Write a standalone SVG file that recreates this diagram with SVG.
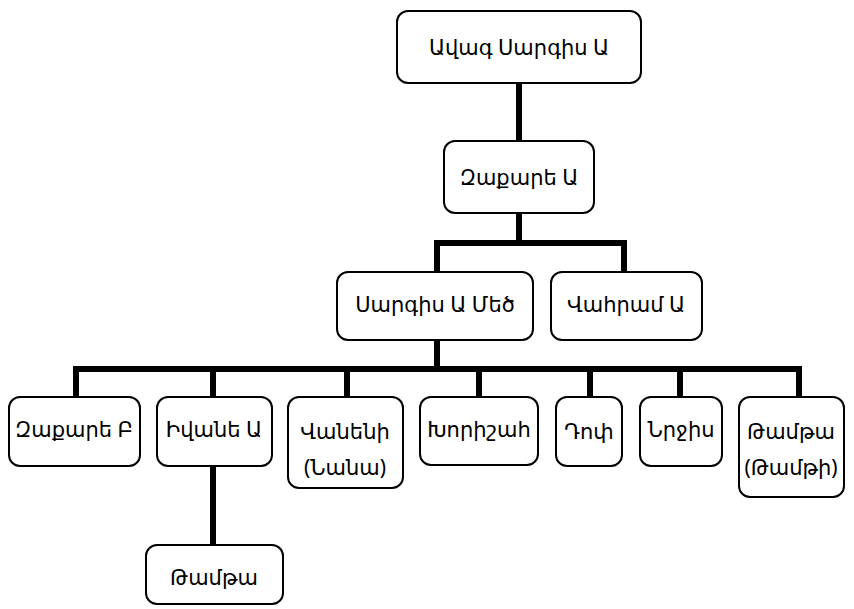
<svg xmlns="http://www.w3.org/2000/svg" width="854" height="609" viewBox="0 0 854 609">
<style>
.box{fill:#fff;stroke:#000;stroke-width:2}
.t{font-family:"Noto Sans","DejaVu Sans",sans-serif;font-size:21px;fill:#000;text-anchor:middle;dominant-baseline:central}
.c{stroke:#000;stroke-width:6;fill:none;stroke-linecap:square}
</style>
<rect width="854" height="609" fill="#fff"/>
<g id="connectors">
<path class="c" d="M519 83V141M519 213V243M437 243H624M437 243V272M624 243V272"/>
<path class="c" d="M437 340V369M76 369H799M76 369V397M213 369V397M347 369V397M479 369V397M590 369V397M680 369V397M799 369V397M213 466V545"/>
</g>
<g id="n1"><rect class="box" x="397" y="11" width="244" height="72" rx="11"/><text class="t" x="519" y="47">Ավագ Սարգիս Ա</text></g>
<g id="n2"><rect class="box" x="444" y="141" width="150" height="72" rx="11"/><text class="t" x="519" y="177">Զաքարե Ա</text></g>
<g id="n3"><rect class="box" x="337" y="272" width="196" height="68" rx="11"/><text class="t" x="435" y="304">Սարգիս Ա Մեծ</text></g>
<g id="n4"><rect class="box" x="551" y="272" width="151" height="68" rx="11"/><text class="t" x="626" y="304">Վահրամ Ա</text></g>
<g id="n5"><rect class="box" x="9" y="397" width="131" height="69" rx="11"/><text class="t" x="74" y="429">Զաքարե Բ</text></g>
<g id="n6"><rect class="box" x="157" y="397" width="115" height="69" rx="11"/><text class="t" x="214" y="429">Իվանե Ա</text></g>
<g id="n7"><rect class="box" x="288" y="397" width="115" height="91" rx="11"/><text class="t" x="345" y="431">Վանենի</text><text class="t" x="345" y="467">(Նանա)</text></g>
<g id="n8"><rect class="box" x="420" y="397" width="118" height="68" rx="11"/><text class="t" x="479" y="429">Խորիշահ</text></g>
<g id="n9"><rect class="box" x="556" y="397" width="66" height="69" rx="11"/><text class="t" x="589" y="431">Դոփ</text></g>
<g id="n10"><rect class="box" x="640" y="397" width="82" height="69" rx="11"/><text class="t" x="681" y="429">Նրջիս</text></g>
<g id="n11"><rect class="box" x="739" y="397" width="105" height="100" rx="11"/><text class="t" x="791" y="431">Թամթա</text><text class="t" x="791" y="467">(Թամթի)</text></g>
<g id="n12"><rect class="box" x="146" y="545" width="137" height="59" rx="11"/><text class="t" x="214" y="577">Թամթա</text></g>
</svg>
